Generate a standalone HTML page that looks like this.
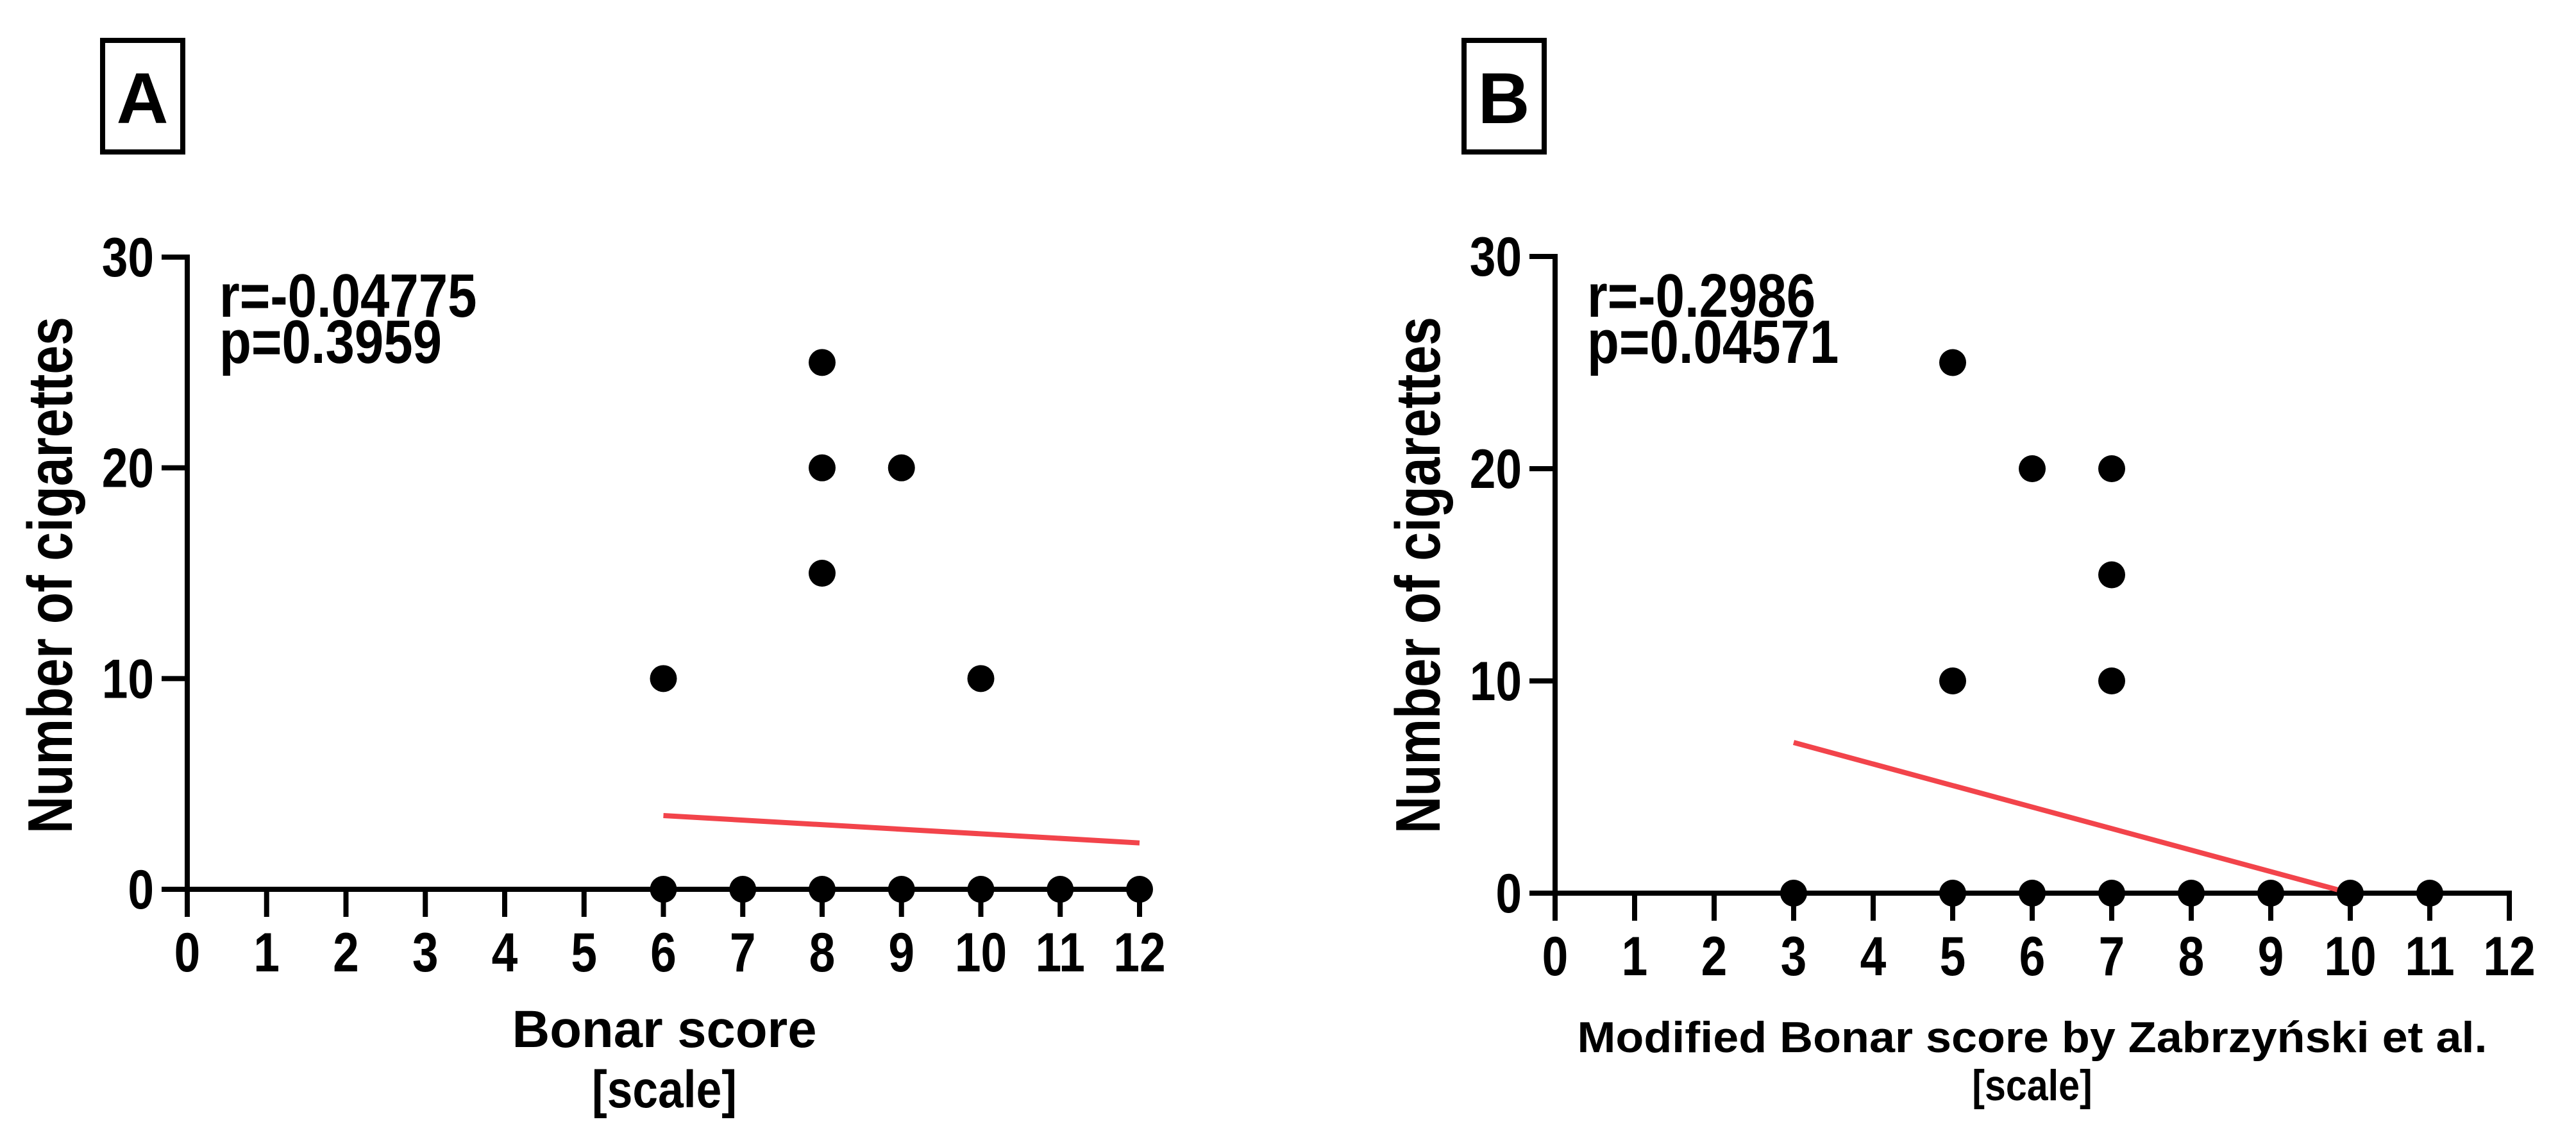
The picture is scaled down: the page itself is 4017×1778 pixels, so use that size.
<!DOCTYPE html>
<html><head><meta charset="utf-8"><style>
html,body{margin:0;padding:0;background:#fff}
svg{display:block}
text{font-family:"Liberation Sans",Arial,sans-serif;font-weight:bold;fill:#000}
</style></head><body>
<svg id="fig" width="4017" height="1778" viewBox="0 0 4017 1778" xmlns="http://www.w3.org/2000/svg"></svg>
<script>
// Panel A data
const aX = [6,6,7,8,8,8,8,9,9,10,10,11,12];
const aY = [0,10,0,0,15,20,25,0,20,0,10,0,0];
const aFitX = [6,12];
const aFitY = [3.5,2.2];
const aStats = ["r=-0.04775","p=0.3959"];
// Panel B data
const bX = [3,5,5,5,6,6,7,7,7,7,8,9,10,11];
const bY = [0,0,10,25,0,20,0,10,15,20,0,0,0,0];
const bFitX = [3,10];
const bFitY = [7.1,0];
const bStats = ["r=-0.2986","p=0.04571"];
// Ticks
const xTicks = [0,1,2,3,4,5,6,7,8,9,10,11,12];
const yTicks = [0,10,20,30];

const NS="http://www.w3.org/2000/svg";
const svg=document.getElementById('fig');
function mk(tag,attrs,parent){const e=document.createElementNS(NS,tag);for(const k in attrs)e.setAttribute(k,attrs[k]);(parent||svg).appendChild(e);return e;}
function txt(s,x,y,size,anchor,sx,parent){
  const g=mk('g',{transform:`translate(${x},${y}) scale(${sx},1)`},parent);
  const t=mk('text',{x:0,y:0,'font-size':size,'text-anchor':anchor},g);
  t.textContent=s;return t;
}
function panel(cfg){
  const g=mk('g',{});
  
  
  const X=v=>cfg.x0+(cfg.x1-cfg.x0)*v/12;
  const Y=v=>cfg.y0-(cfg.y0-cfg.y30)*v/30;
  const box=mk('rect',{x:cfg.bx,y:63,width:125,height:174,fill:'none',stroke:'#000','stroke-width':8},g);
  
  
  const bl=txt(cfg.letter,cfg.bx+62,192,112,'middle',1,g);
  
  
  const ya=mk('line',{x1:X(0),y1:Y(30)-4,x2:X(0),y2:Y(0)+4,stroke:'#000','stroke-width':8},g);
  
  
  const xa=mk('line',{x1:X(0)-4,y1:Y(0),x2:X(12)+4,y2:Y(0),stroke:'#000','stroke-width':8},g);
  
  
  for(const v of yTicks){
    mk('line',{x1:X(0)-40,y1:Y(v),x2:X(0),y2:Y(v),stroke:'#000','stroke-width':8},g);
    const t=txt(String(v),X(0)-52,Y(v)+30,86,'end',0.85,g);
    
    
  }
  for(const v of xTicks){
    mk('line',{x1:X(v),y1:Y(0),x2:X(v),y2:Y(0)+43,stroke:'#000','stroke-width':8},g);
    const t=txt(String(v),X(v),Y(0)+128,86,'middle',0.85,g);
    
    
  }
  const fl=mk('line',{x1:X(cfg.fx[0]),y1:Y(cfg.fy[0]),x2:X(cfg.fx[1]),y2:Y(cfg.fy[1]),stroke:'#f2444b','stroke-width':8},g);
  
  
  for(let i=0;i<cfg.px.length;i++){
    const c=mk('circle',{cx:X(cfg.px[i]),cy:Y(cfg.py[i]),r:21,fill:'#000'},g);
    
    
  }
  const s1=txt(cfg.stats[0],cfg.x0+50,494,96,'start',0.85,g);
  
  
  const s2=txt(cfg.stats[1],cfg.x0+50,566,96,'start',0.85,g);
  
  
  const yg=mk('g',{transform:`translate(${cfg.ytx},897) rotate(-90)`},g);
  const yt=mk('text',{x:0,y:0,'font-size':98,'text-anchor':'middle',textLength:806,lengthAdjust:'spacingAndGlyphs'},yg);
  yt.textContent='Number of cigarettes';
  
  
  const xt=mk('text',{x:cfg.xtx,y:cfg.xtb,'font-size':cfg.xtsize,'text-anchor':'middle',textLength:cfg.xtlen,lengthAdjust:'spacingAndGlyphs'},g);
  xt.textContent=cfg.xtitle;
  
  
  const xs=txt('[scale]',cfg.xtx,cfg.xsb,cfg.xtsize,'middle',0.87,g);
  
  
}
panel({name:'panel-a',letter:'A',bx:160,x0:292,x1:1777,y0:1387,y30:401,px:aX,py:aY,fx:aFitX,fy:aFitY,stats:aStats,
  ytx:112,xtx:1036,xtb:1633,xtsize:82,xtlen:475,xtitle:'Bonar score',xsb:1727});
panel({name:'panel-b',letter:'B',bx:2283,x0:2425,x1:3913,y0:1393,y30:400,px:bX,py:bY,fx:bFitX,fy:bFitY,stats:bStats,
  ytx:2245,xtx:3169,xtb:1641,xtsize:68,xtlen:1419,xtitle:'Modified Bonar score by Zabrzyński et al.',xsb:1716});
</script>
</body></html>
